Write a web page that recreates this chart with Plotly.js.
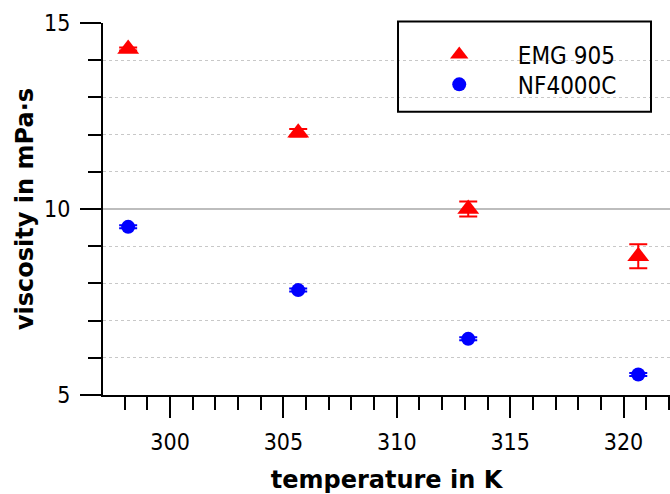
<!DOCTYPE html>
<html><head><meta charset="utf-8">
<script src="https://cdn.plot.ly/plotly-3.0.1.min.js"></script>
<style>html,body{margin:0;padding:0;background:#fff}</style>
</head><body><div id="chart" style="width:670px;height:494px"></div>
<script>
const temperatures = [298.15, 305.65, 313.15, 320.65];
const emgViscosity = [14.3, 12.05, 10.0, 8.73];
const emgError = [0.04, 0.1, 0.2, 0.32];
const nfViscosity = [9.52, 7.82, 6.51, 5.55];
const nfError = [0.04, 0.04, 0.04, 0.04];
const seriesNames = ['EMG 905', 'NF4000C'];
const xTitle = 'temperature in K';
const yTitle = 'viscosity in mPa·s';

const FONT = '"DejaVu Sans Condensed", "DejaVu Sans", sans-serif';
const TITLEFONT = '"DejaVu Sans", sans-serif';
const pad = '\u00a0\u00a0\u00a0\u00a0\u00a0\u2009';

const traces = [
  {
    x: temperatures, y: emgViscosity, name: pad + seriesNames[0], legend: 'legend',
    type: 'scatter', mode: 'markers',
    marker: {symbol: 'triangle-up', size: 19, color: '#ff0000'},
    error_y: {type: 'data', array: emgError, visible: true, color: '#ff0000', thickness: 2, width: 9}
  },
  {
    x: temperatures, y: nfViscosity, name: pad + seriesNames[1], legend: 'legend2',
    type: 'scatter', mode: 'markers',
    marker: {symbol: 'circle', size: 14, color: '#0000ff'},
    error_y: {type: 'data', array: nfError, visible: true, color: '#0000ff', thickness: 2, width: 9}
  }
];

const legendStyle = {
  xanchor: 'left', yanchor: 'top',
  bgcolor: 'rgba(0,0,0,0)', borderwidth: 0,
  font: {family: FONT, size: 24, color: '#000000'},
  itemsizing: 'trace'
};

const layout = {
  width: 670, height: 494,
  margin: {l: 103, r: 0, t: 23, b: 99, pad: 0},
  paper_bgcolor: '#ffffff', plot_bgcolor: '#ffffff',
  font: {family: FONT, size: 22, color: '#000000'},
  showlegend: true,
  legend: Object.assign({x: 0.593, y: 0.975}, legendStyle),
  legend2: Object.assign({x: 0.593, y: 0.8945}, legendStyle),
  shapes: [{
    type: 'rect', xref: 'paper', yref: 'paper',
    x0: 0.5203, x1: 0.9665, y0: 0.7615, y1: 1.004,
    line: {color: '#000000', width: 2}, fillcolor: 'rgba(0,0,0,0)'
  }],
  xaxis: {
    range: [297.04, 322.05], tick0: 300, dtick: 5,
    showline: true, linecolor: '#000000', linewidth: 2,
    ticks: 'outside', ticklen: 21, tickwidth: 2, tickcolor: '#000000',
    minor: {dtick: 1, ticks: 'outside', ticklen: 13, tickwidth: 2, tickcolor: '#000000', showgrid: false},
    showgrid: false, zeroline: false,
    tickfont: {family: FONT, size: 23},
    ticklabelstandoff: 4,
    title: {text: xTitle, font: {family: TITLEFONT, size: 24, weight: 'bold'}, standoff: 18}
  },
  yaxis: {
    range: [5, 15], tick0: 5, dtick: 5,
    showline: true, linecolor: '#000000', linewidth: 2,
    ticks: 'outside', ticklen: 21, tickwidth: 2, tickcolor: '#000000',
    minor: {dtick: 1, ticks: 'outside', ticklen: 13, tickwidth: 2, tickcolor: '#000000',
            showgrid: true, griddash: 'dot', gridcolor: '#c8c8c8', gridwidth: 1},
    showgrid: true, gridcolor: '#bdbdbd', gridwidth: 1.5, zeroline: false,
    tickfont: {family: FONT, size: 23},
    ticklabelstandoff: 5,
    title: {text: yTitle, font: {family: TITLEFONT, size: 24, weight: 'bold'}, standoff: 4}
  }
};

Plotly.newPlot('chart', traces, layout, {displayModeBar: false, staticPlot: true});
</script></body></html>
